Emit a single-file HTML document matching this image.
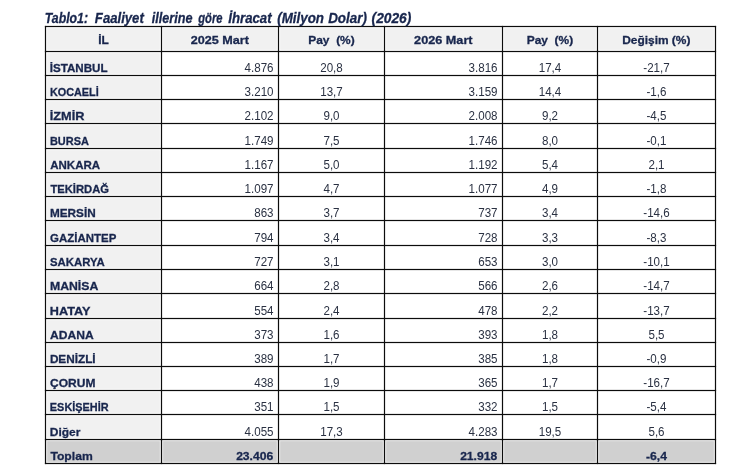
<!DOCTYPE html><html><head><meta charset="utf-8"><style>
html,body{margin:0;padding:0;background:#fff;}
body{width:756px;height:467px;position:relative;overflow:hidden;font-family:"Liberation Sans",sans-serif;color:#18264d;}
.a{position:absolute;white-space:nowrap;line-height:1;}
.l{position:absolute;background:#0c0c0c;}
.b{font-weight:bold;-webkit-text-stroke:0.3px #18264d;}
.t.b{font-size:11.8px;}
.t{position:absolute;white-space:nowrap;line-height:1;font-size:12px;}
.v{color:#2a3142;}
</style></head><body>
<svg class="a" style="left:0;top:0" width="756" height="467" viewBox="0 0 756 467">
<rect x="45.5" y="439.5" width="670.0" height="24.0" fill="#f0f0f0"/>
<rect x="47.20" y="28.20" width="112.60" height="21.60" fill="#f1f1f1"/>
<rect x="163.20" y="28.20" width="113.60" height="21.60" fill="#f1f1f1"/>
<rect x="280.20" y="28.20" width="102.60" height="21.60" fill="#f1f1f1"/>
<rect x="386.20" y="28.20" width="114.60" height="21.60" fill="#f1f1f1"/>
<rect x="504.20" y="28.20" width="91.60" height="21.60" fill="#f1f1f1"/>
<rect x="599.20" y="28.20" width="114.60" height="21.60" fill="#f1f1f1"/>
<rect x="47.20" y="53.20" width="112.60" height="20.60" fill="#f1f1f1"/>
<rect x="47.20" y="77.20" width="112.60" height="20.60" fill="#f1f1f1"/>
<rect x="47.20" y="101.20" width="112.60" height="20.60" fill="#f1f1f1"/>
<rect x="47.20" y="125.20" width="112.60" height="21.60" fill="#f1f1f1"/>
<rect x="47.20" y="150.20" width="112.60" height="20.60" fill="#f1f1f1"/>
<rect x="47.20" y="174.20" width="112.60" height="20.60" fill="#f1f1f1"/>
<rect x="47.20" y="198.20" width="112.60" height="20.60" fill="#f1f1f1"/>
<rect x="47.20" y="222.20" width="112.60" height="21.60" fill="#f1f1f1"/>
<rect x="47.20" y="247.20" width="112.60" height="20.60" fill="#f1f1f1"/>
<rect x="47.20" y="271.20" width="112.60" height="20.60" fill="#f1f1f1"/>
<rect x="47.20" y="295.20" width="112.60" height="21.60" fill="#f1f1f1"/>
<rect x="47.20" y="320.20" width="112.60" height="20.60" fill="#f1f1f1"/>
<rect x="47.20" y="344.20" width="112.60" height="20.60" fill="#f1f1f1"/>
<rect x="47.20" y="368.20" width="112.60" height="20.60" fill="#f1f1f1"/>
<rect x="47.20" y="392.20" width="112.60" height="20.60" fill="#f1f1f1"/>
<rect x="47.20" y="416.20" width="112.60" height="21.60" fill="#f1f1f1"/>
<rect x="47.20" y="441.20" width="112.60" height="20.60" fill="#d0d0d0"/>
<rect x="163.20" y="441.20" width="113.60" height="20.60" fill="#d0d0d0"/>
<rect x="280.20" y="441.20" width="102.60" height="20.60" fill="#d0d0d0"/>
<rect x="386.20" y="441.20" width="114.60" height="20.60" fill="#d0d0d0"/>
<rect x="504.20" y="441.20" width="91.60" height="20.60" fill="#d0d0d0"/>
<rect x="599.20" y="441.20" width="114.60" height="20.60" fill="#d0d0d0"/>
<g fill="#0c0c0c">
<rect x="44.90" y="25.90" width="1.2" height="438.20"/>
<rect x="160.90" y="25.90" width="1.2" height="438.20"/>
<rect x="277.90" y="25.90" width="1.2" height="438.20"/>
<rect x="383.90" y="25.90" width="1.2" height="438.20"/>
<rect x="501.90" y="25.90" width="1.2" height="438.20"/>
<rect x="596.90" y="25.90" width="1.2" height="438.20"/>
<rect x="714.90" y="25.90" width="1.2" height="438.20"/>
<rect x="44.90" y="25.90" width="671.20" height="1.2"/>
<rect x="44.90" y="50.90" width="671.20" height="1.2"/>
<rect x="44.90" y="74.90" width="671.20" height="1.2"/>
<rect x="44.90" y="98.90" width="671.20" height="1.2"/>
<rect x="44.90" y="122.90" width="671.20" height="1.2"/>
<rect x="44.90" y="147.90" width="671.20" height="1.2"/>
<rect x="44.90" y="171.90" width="671.20" height="1.2"/>
<rect x="44.90" y="195.90" width="671.20" height="1.2"/>
<rect x="44.90" y="219.90" width="671.20" height="1.2"/>
<rect x="44.90" y="244.90" width="671.20" height="1.2"/>
<rect x="44.90" y="268.90" width="671.20" height="1.2"/>
<rect x="44.90" y="292.90" width="671.20" height="1.2"/>
<rect x="44.90" y="317.90" width="671.20" height="1.2"/>
<rect x="44.90" y="341.90" width="671.20" height="1.2"/>
<rect x="44.90" y="365.90" width="671.20" height="1.2"/>
<rect x="44.90" y="389.90" width="671.20" height="1.2"/>
<rect x="44.90" y="413.90" width="671.20" height="1.2"/>
<rect x="44.90" y="438.90" width="671.20" height="1.2"/>
<rect x="44.90" y="462.90" width="671.20" height="1.2"/>
</g></svg>
<div id="txt" style="position:absolute;left:0;top:0;width:756px;height:467px;will-change:transform">
<div id="t0" class="a b" style="left:44px;top:11px;font-size:14px;font-style:italic;transform-origin:0 50%;transform:translateX(0.77px) scaleX(0.8782)">Tablo1:</div>
<div id="t1" class="a b" style="left:94px;top:11px;font-size:14px;font-style:italic;transform-origin:0 50%;transform:translateX(0.86px) scaleX(0.9383)">Faaliyet</div>
<div id="t2" class="a b" style="left:151px;top:11px;font-size:14px;font-style:italic;transform-origin:0 50%;transform:translateX(0.81px) scaleX(0.9025)">illerine</div>
<div id="t3" class="a b" style="left:198px;top:11px;font-size:14px;font-style:italic;transform-origin:0 50%;transform:translateX(0.28px) scaleX(0.7984)">göre</div>
<div id="t4" class="a b" style="left:228px;top:11px;font-size:14px;font-style:italic;transform-origin:0 50%;transform:translateX(0.27px) scaleX(0.9423)">İhracat</div>
<div id="t5" class="a b" style="left:277px;top:11px;font-size:14px;font-style:italic;transform-origin:0 50%;transform:translateX(0.19px) scaleX(0.9551)">(Milyon</div>
<div id="t6" class="a b" style="left:328px;top:11px;font-size:14px;font-style:italic;transform-origin:0 50%;transform:translateX(0.15px) scaleX(0.9577)">Dolar)</div>
<div id="t7" class="a b" style="left:371px;top:11px;font-size:14px;font-style:italic;transform-origin:0 50%;transform:translateX(0.57px) scaleX(0.9822)">(2026)</div>
<div id="h0" class="a b" style="left:48px;width:110px;text-align:center;top:35px;font-size:11.8px;transform:translateX(0.45px) scaleX(1.0075)">İL</div>
<div id="h1" class="a b" style="left:164px;width:110px;text-align:center;top:35px;font-size:11.8px;transform:translateX(0.88px) scaleX(1.0684)">2025 Mart</div>
<div id="h2" class="a b" style="left:276px;width:110px;text-align:center;top:35px;font-size:11.8px;transform:translateX(0.49px) scaleX(1.0119)">Pay&nbsp;&nbsp;(%)</div>
<div id="h3" class="a b" style="left:388px;width:110px;text-align:center;top:35px;font-size:11.8px;transform:translateX(0.34px) scaleX(1.0740)">2026 Mart</div>
<div id="h4" class="a b" style="left:494px;width:110px;text-align:center;top:35px;font-size:11.8px;transform:translateX(0.90px) scaleX(1.0115)">Pay&nbsp;&nbsp;(%)</div>
<div id="h5" class="a b" style="left:601px;width:110px;text-align:center;top:35px;font-size:11.8px;transform:translateX(0.30px) scaleX(1.0103)">Değişim (%)</div>
<div id="n0" class="t b" style="left:49px;top:63px;transform-origin:0 50%;transform:translateX(0.73px) scaleX(0.9847)">İSTANBUL</div>
<div id="v0_1" class="t v" style="right:483px;top:62px;transform-origin:100% 50%;transform:translateX(0.50px) scaleX(0.9650)">4.876</div>
<div id="v0_2" class="t v" style="left:291px;width:80px;text-align:center;top:62px;transform:translateX(0.50px) scaleX(0.9650)">20,8</div>
<div id="v0_3" class="t v" style="right:259px;top:62px;transform-origin:100% 50%;transform:translateX(0.50px) scaleX(0.9650)">3.816</div>
<div id="v0_4" class="t v" style="left:510px;width:80px;text-align:center;top:62px;transform:translateX(0.00px) scaleX(0.9650)">17,4</div>
<div id="v0_5" class="t v" style="left:616px;width:80px;text-align:center;top:62px;transform:translateX(0.50px) scaleX(0.9650)">-21,7</div>
<div id="n1" class="t b" style="left:49px;top:87px;transform-origin:0 50%;transform:translateX(0.88px) scaleX(0.9196)">KOCAELİ</div>
<div id="v1_1" class="t v" style="right:483px;top:86px;transform-origin:100% 50%;transform:translateX(0.50px) scaleX(0.9650)">3.210</div>
<div id="v1_2" class="t v" style="left:291px;width:80px;text-align:center;top:86px;transform:translateX(0.50px) scaleX(0.9650)">13,7</div>
<div id="v1_3" class="t v" style="right:259px;top:86px;transform-origin:100% 50%;transform:translateX(0.50px) scaleX(0.9650)">3.159</div>
<div id="v1_4" class="t v" style="left:510px;width:80px;text-align:center;top:86px;transform:translateX(0.00px) scaleX(0.9650)">14,4</div>
<div id="v1_5" class="t v" style="left:616px;width:80px;text-align:center;top:86px;transform:translateX(0.50px) scaleX(0.9650)">-1,6</div>
<div id="n2" class="t b" style="left:49px;top:111px;transform-origin:0 50%;transform:translateX(0.73px) scaleX(1.0787)">İZMİR</div>
<div id="v2_1" class="t v" style="right:483px;top:110px;transform-origin:100% 50%;transform:translateX(0.50px) scaleX(0.9650)">2.102</div>
<div id="v2_2" class="t v" style="left:291px;width:80px;text-align:center;top:110px;transform:translateX(0.50px) scaleX(0.9650)">9,0</div>
<div id="v2_3" class="t v" style="right:259px;top:110px;transform-origin:100% 50%;transform:translateX(0.50px) scaleX(0.9650)">2.008</div>
<div id="v2_4" class="t v" style="left:510px;width:80px;text-align:center;top:110px;transform:translateX(0.00px) scaleX(0.9650)">9,2</div>
<div id="v2_5" class="t v" style="left:616px;width:80px;text-align:center;top:110px;transform:translateX(0.50px) scaleX(0.9650)">-4,5</div>
<div id="n3" class="t b" style="left:49px;top:136px;transform-origin:0 50%;transform:translateX(0.93px) scaleX(0.9285)">BURSA</div>
<div id="v3_1" class="t v" style="right:483px;top:135px;transform-origin:100% 50%;transform:translateX(0.50px) scaleX(0.9650)">1.749</div>
<div id="v3_2" class="t v" style="left:291px;width:80px;text-align:center;top:135px;transform:translateX(0.50px) scaleX(0.9650)">7,5</div>
<div id="v3_3" class="t v" style="right:259px;top:135px;transform-origin:100% 50%;transform:translateX(0.50px) scaleX(0.9650)">1.746</div>
<div id="v3_4" class="t v" style="left:510px;width:80px;text-align:center;top:135px;transform:translateX(0.00px) scaleX(0.9650)">8,0</div>
<div id="v3_5" class="t v" style="left:616px;width:80px;text-align:center;top:135px;transform:translateX(0.50px) scaleX(0.9650)">-0,1</div>
<div id="n4" class="t b" style="left:50px;top:160px;transform-origin:0 50%;transform:translateX(0.20px) scaleX(0.9768)">ANKARA</div>
<div id="v4_1" class="t v" style="right:483px;top:159px;transform-origin:100% 50%;transform:translateX(0.50px) scaleX(0.9650)">1.167</div>
<div id="v4_2" class="t v" style="left:291px;width:80px;text-align:center;top:159px;transform:translateX(0.50px) scaleX(0.9650)">5,0</div>
<div id="v4_3" class="t v" style="right:259px;top:159px;transform-origin:100% 50%;transform:translateX(0.50px) scaleX(0.9650)">1.192</div>
<div id="v4_4" class="t v" style="left:510px;width:80px;text-align:center;top:159px;transform:translateX(0.00px) scaleX(0.9650)">5,4</div>
<div id="v4_5" class="t v" style="left:616px;width:80px;text-align:center;top:159px;transform:translateX(0.50px) scaleX(0.9650)">2,1</div>
<div id="n5" class="t b" style="left:50px;top:184px;transform-origin:0 50%;transform:translateX(0.39px) scaleX(0.9516)">TEKİRDAĞ</div>
<div id="v5_1" class="t v" style="right:483px;top:183px;transform-origin:100% 50%;transform:translateX(0.50px) scaleX(0.9650)">1.097</div>
<div id="v5_2" class="t v" style="left:291px;width:80px;text-align:center;top:183px;transform:translateX(0.50px) scaleX(0.9650)">4,7</div>
<div id="v5_3" class="t v" style="right:259px;top:183px;transform-origin:100% 50%;transform:translateX(0.50px) scaleX(0.9650)">1.077</div>
<div id="v5_4" class="t v" style="left:510px;width:80px;text-align:center;top:183px;transform:translateX(0.00px) scaleX(0.9650)">4,9</div>
<div id="v5_5" class="t v" style="left:616px;width:80px;text-align:center;top:183px;transform:translateX(0.50px) scaleX(0.9650)">-1,8</div>
<div id="n6" class="t b" style="left:49px;top:208px;transform-origin:0 50%;transform:translateX(0.90px) scaleX(0.9972)">MERSİN</div>
<div id="v6_1" class="t v" style="right:483px;top:207px;transform-origin:100% 50%;transform:translateX(0.50px) scaleX(0.9650)">863</div>
<div id="v6_2" class="t v" style="left:291px;width:80px;text-align:center;top:207px;transform:translateX(0.50px) scaleX(0.9650)">3,7</div>
<div id="v6_3" class="t v" style="right:259px;top:207px;transform-origin:100% 50%;transform:translateX(0.50px) scaleX(0.9650)">737</div>
<div id="v6_4" class="t v" style="left:510px;width:80px;text-align:center;top:207px;transform:translateX(0.00px) scaleX(0.9650)">3,4</div>
<div id="v6_5" class="t v" style="left:616px;width:80px;text-align:center;top:207px;transform:translateX(0.50px) scaleX(0.9650)">-14,6</div>
<div id="n7" class="t b" style="left:50px;top:233px;transform-origin:0 50%;transform:translateX(0.10px) scaleX(0.9710)">GAZİANTEP</div>
<div id="v7_1" class="t v" style="right:483px;top:232px;transform-origin:100% 50%;transform:translateX(0.50px) scaleX(0.9650)">794</div>
<div id="v7_2" class="t v" style="left:291px;width:80px;text-align:center;top:232px;transform:translateX(0.50px) scaleX(0.9650)">3,4</div>
<div id="v7_3" class="t v" style="right:259px;top:232px;transform-origin:100% 50%;transform:translateX(0.50px) scaleX(0.9650)">728</div>
<div id="v7_4" class="t v" style="left:510px;width:80px;text-align:center;top:232px;transform:translateX(0.00px) scaleX(0.9650)">3,3</div>
<div id="v7_5" class="t v" style="left:616px;width:80px;text-align:center;top:232px;transform:translateX(0.50px) scaleX(0.9650)">-8,3</div>
<div id="n8" class="t b" style="left:50px;top:257px;transform-origin:0 50%;transform:translateX(0.02px) scaleX(0.9642)">SAKARYA</div>
<div id="v8_1" class="t v" style="right:483px;top:256px;transform-origin:100% 50%;transform:translateX(0.50px) scaleX(0.9650)">727</div>
<div id="v8_2" class="t v" style="left:291px;width:80px;text-align:center;top:256px;transform:translateX(0.50px) scaleX(0.9650)">3,1</div>
<div id="v8_3" class="t v" style="right:259px;top:256px;transform-origin:100% 50%;transform:translateX(0.50px) scaleX(0.9650)">653</div>
<div id="v8_4" class="t v" style="left:510px;width:80px;text-align:center;top:256px;transform:translateX(0.00px) scaleX(0.9650)">3,0</div>
<div id="v8_5" class="t v" style="left:616px;width:80px;text-align:center;top:256px;transform:translateX(0.50px) scaleX(0.9650)">-10,1</div>
<div id="n9" class="t b" style="left:49px;top:281px;transform-origin:0 50%;transform:translateX(0.93px) scaleX(1.0400)">MANİSA</div>
<div id="v9_1" class="t v" style="right:483px;top:280px;transform-origin:100% 50%;transform:translateX(0.50px) scaleX(0.9650)">664</div>
<div id="v9_2" class="t v" style="left:291px;width:80px;text-align:center;top:280px;transform:translateX(0.50px) scaleX(0.9650)">2,8</div>
<div id="v9_3" class="t v" style="right:259px;top:280px;transform-origin:100% 50%;transform:translateX(0.50px) scaleX(0.9650)">566</div>
<div id="v9_4" class="t v" style="left:510px;width:80px;text-align:center;top:280px;transform:translateX(0.00px) scaleX(0.9650)">2,6</div>
<div id="v9_5" class="t v" style="left:616px;width:80px;text-align:center;top:280px;transform:translateX(0.50px) scaleX(0.9650)">-14,7</div>
<div id="n10" class="t b" style="left:49px;top:306px;transform-origin:0 50%;transform:translateX(0.78px) scaleX(1.0735)">HATAY</div>
<div id="v10_1" class="t v" style="right:483px;top:305px;transform-origin:100% 50%;transform:translateX(0.50px) scaleX(0.9650)">554</div>
<div id="v10_2" class="t v" style="left:291px;width:80px;text-align:center;top:305px;transform:translateX(0.50px) scaleX(0.9650)">2,4</div>
<div id="v10_3" class="t v" style="right:259px;top:305px;transform-origin:100% 50%;transform:translateX(0.50px) scaleX(0.9650)">478</div>
<div id="v10_4" class="t v" style="left:510px;width:80px;text-align:center;top:305px;transform:translateX(0.00px) scaleX(0.9650)">2,2</div>
<div id="v10_5" class="t v" style="left:616px;width:80px;text-align:center;top:305px;transform:translateX(0.50px) scaleX(0.9650)">-13,7</div>
<div id="n11" class="t b" style="left:50px;top:330px;transform-origin:0 50%;transform:translateX(0.07px) scaleX(1.0232)">ADANA</div>
<div id="v11_1" class="t v" style="right:483px;top:329px;transform-origin:100% 50%;transform:translateX(0.50px) scaleX(0.9650)">373</div>
<div id="v11_2" class="t v" style="left:291px;width:80px;text-align:center;top:329px;transform:translateX(0.50px) scaleX(0.9650)">1,6</div>
<div id="v11_3" class="t v" style="right:259px;top:329px;transform-origin:100% 50%;transform:translateX(0.50px) scaleX(0.9650)">393</div>
<div id="v11_4" class="t v" style="left:510px;width:80px;text-align:center;top:329px;transform:translateX(0.00px) scaleX(0.9650)">1,8</div>
<div id="v11_5" class="t v" style="left:616px;width:80px;text-align:center;top:329px;transform:translateX(0.50px) scaleX(0.9650)">5,5</div>
<div id="n12" class="t b" style="left:49px;top:354px;transform-origin:0 50%;transform:translateX(0.88px) scaleX(0.9967)">DENİZLİ</div>
<div id="v12_1" class="t v" style="right:483px;top:353px;transform-origin:100% 50%;transform:translateX(0.50px) scaleX(0.9650)">389</div>
<div id="v12_2" class="t v" style="left:291px;width:80px;text-align:center;top:353px;transform:translateX(0.50px) scaleX(0.9650)">1,7</div>
<div id="v12_3" class="t v" style="right:259px;top:353px;transform-origin:100% 50%;transform:translateX(0.50px) scaleX(0.9650)">385</div>
<div id="v12_4" class="t v" style="left:510px;width:80px;text-align:center;top:353px;transform:translateX(0.00px) scaleX(0.9650)">1,8</div>
<div id="v12_5" class="t v" style="left:616px;width:80px;text-align:center;top:353px;transform:translateX(0.50px) scaleX(0.9650)">-0,9</div>
<div id="n13" class="t b" style="left:49px;top:378px;transform-origin:0 50%;transform:translateX(0.99px) scaleX(1.0189)">ÇORUM</div>
<div id="v13_1" class="t v" style="right:483px;top:377px;transform-origin:100% 50%;transform:translateX(0.50px) scaleX(0.9650)">438</div>
<div id="v13_2" class="t v" style="left:291px;width:80px;text-align:center;top:377px;transform:translateX(0.50px) scaleX(0.9650)">1,9</div>
<div id="v13_3" class="t v" style="right:259px;top:377px;transform-origin:100% 50%;transform:translateX(0.50px) scaleX(0.9650)">365</div>
<div id="v13_4" class="t v" style="left:510px;width:80px;text-align:center;top:377px;transform:translateX(0.00px) scaleX(0.9650)">1,7</div>
<div id="v13_5" class="t v" style="left:616px;width:80px;text-align:center;top:377px;transform:translateX(0.50px) scaleX(0.9650)">-16,7</div>
<div id="n14" class="t b" style="left:49px;top:402px;transform-origin:0 50%;transform:translateX(0.86px) scaleX(0.9225)">ESKİŞEHİR</div>
<div id="v14_1" class="t v" style="right:483px;top:401px;transform-origin:100% 50%;transform:translateX(0.50px) scaleX(0.9650)">351</div>
<div id="v14_2" class="t v" style="left:291px;width:80px;text-align:center;top:401px;transform:translateX(0.50px) scaleX(0.9650)">1,5</div>
<div id="v14_3" class="t v" style="right:259px;top:401px;transform-origin:100% 50%;transform:translateX(0.50px) scaleX(0.9650)">332</div>
<div id="v14_4" class="t v" style="left:510px;width:80px;text-align:center;top:401px;transform:translateX(0.00px) scaleX(0.9650)">1,5</div>
<div id="v14_5" class="t v" style="left:616px;width:80px;text-align:center;top:401px;transform:translateX(0.50px) scaleX(0.9650)">-5,4</div>
<div id="n15" class="t b" style="left:49px;top:427px;transform-origin:0 50%;transform:translateX(0.80px) scaleX(1.0144)">Diğer</div>
<div id="v15_1" class="t v" style="right:483px;top:426px;transform-origin:100% 50%;transform:translateX(0.50px) scaleX(0.9650)">4.055</div>
<div id="v15_2" class="t v" style="left:291px;width:80px;text-align:center;top:426px;transform:translateX(0.50px) scaleX(0.9650)">17,3</div>
<div id="v15_3" class="t v" style="right:259px;top:426px;transform-origin:100% 50%;transform:translateX(0.50px) scaleX(0.9650)">4.283</div>
<div id="v15_4" class="t v" style="left:510px;width:80px;text-align:center;top:426px;transform:translateX(0.00px) scaleX(0.9650)">19,5</div>
<div id="v15_5" class="t v" style="left:616px;width:80px;text-align:center;top:426px;transform:translateX(0.50px) scaleX(0.9650)">5,6</div>
<div id="n16" class="t b" style="left:50px;top:451px;transform-origin:0 50%;transform:translateX(0.44px) scaleX(1.0289)">Toplam</div>
<div id="v16_1" class="t b" style="right:483px;top:451px;transform-origin:100% 50%;transform:translateX(0.10px) scaleX(1.0270)">23.406</div>
<div id="v16_3" class="t b" style="right:259px;top:451px;transform-origin:100% 50%;transform:translateX(0.10px) scaleX(1.0270)">21.918</div>
<div id="v16_5" class="t b" style="left:616px;width:80px;text-align:center;top:451px;transform:translateX(0.50px) scaleX(1.0270)">-6,4</div>
</div>
</body></html>
